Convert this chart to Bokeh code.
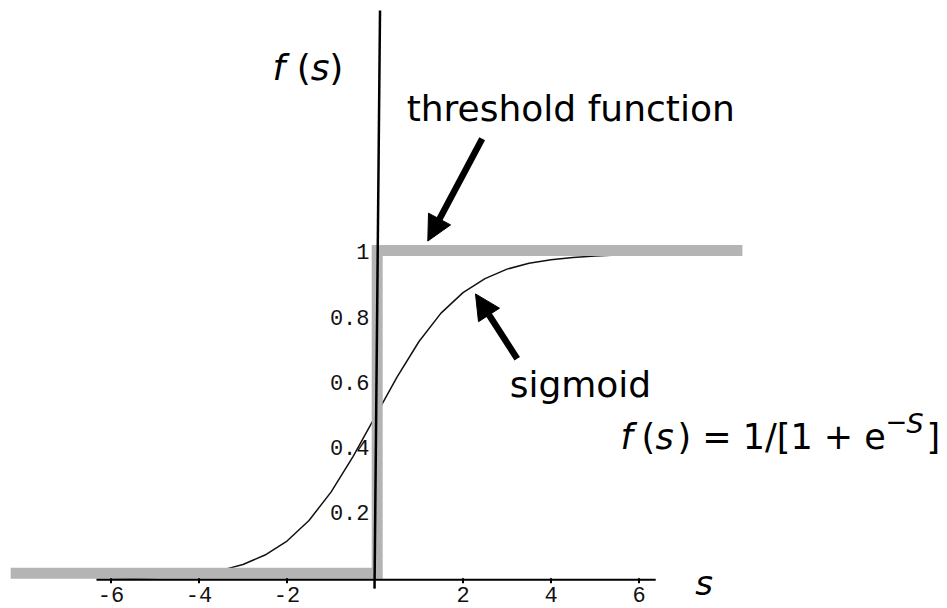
from bokeh.plotting import figure
from bokeh.models import Range1d, Arrow, NormalHead
from bokeh.embed import file_html
from bokeh.resources import INLINE
from bokeh.core.properties import value

# ---- data ----
sigmoid_s = [-6.0, -5.5, -5.0, -4.5, -4.0, -3.5, -3.0, -2.5, -2.0, -1.5, -1.0, -0.5,
             0.0, 0.5, 1.0, 1.5, 2.0, 2.5, 3.0, 3.5, 4.0, 4.5, 5.0, 5.5, 6.0]
sigmoid_f = [0.002, 0.004, 0.007, 0.011, 0.018, 0.029, 0.047, 0.076, 0.119, 0.182, 0.269, 0.378,
             0.5, 0.622, 0.731, 0.818, 0.881, 0.924, 0.953, 0.971, 0.982, 0.989, 0.993, 0.996, 0.998]

threshold_s = [-8.28, 0.05, 0.05, 8.35]
threshold_f = [0.02, 0.02, 1.01, 1.01]

x_ticks = [-6, -4, -2, 2, 4, 6]
x_tick_labels = ["-6", "-4", "-2", "2", "4", "6"]
y_ticks = [0.2, 0.4, 0.6, 0.8, 1.0]
y_tick_labels = ["0.2", "0.4", "0.6", "0.8", "1"]

# ---- layout constants ----
X_AXIS_START, X_AXIS_END = -6.33, 6.38
Y_AXIS_TOP = (0.114, 1.746)
Y_AXIS_BOTTOM = (-0.011, -0.027)
TICK_UP, TICK_DOWN = 0.005, -0.0104
XLAB_BASE = -0.045
YLAB_X = -0.125
YLAB_SHIFT = -0.006

SANS = value("DejaVu Sans")
MONO = value("Liberation Mono")

p = figure(width=947, height=608,
           x_range=Range1d(-8.5114, 13.0114), y_range=Range1d(-0.0880, 1.7770),
           x_axis_location=None, y_axis_location=None,
           toolbar_location=None, output_backend="svg", min_border=0)
p.outline_line_color = None
p.background_fill_color = "white"
p.border_fill_color = "white"
p.grid.grid_line_color = None

# y tick labels
p.text(x=[YLAB_X] * len(y_ticks), y=[v - YLAB_SHIFT for v in y_ticks], text=y_tick_labels,
       text_font=MONO, text_font_size="22px", text_align="right",
       text_baseline="alphabetic", text_color="#111111")

# sigmoid
p.line(sigmoid_s, sigmoid_f, line_color="#111111", line_width=1.5)

# threshold
p.line(threshold_s, threshold_f, line_color="#b4b4b4", line_width=11,
       line_join="miter", line_cap="butt")

# x axis line and ticks
p.line([X_AXIS_START, X_AXIS_END], [0, 0], line_color="black", line_width=2)
p.segment(x0=x_ticks, y0=[TICK_UP] * len(x_ticks), x1=x_ticks, y1=[TICK_DOWN] * len(x_ticks),
          line_color="black", line_width=2)
p.text(x=x_ticks, y=[XLAB_BASE] * len(x_ticks), text=x_tick_labels,
       text_font=MONO, text_font_size="22px", text_align="center",
       text_baseline="alphabetic", text_color="#111111")

# y axis line
p.line([Y_AXIS_TOP[0], Y_AXIS_BOTTOM[0]], [Y_AXIS_TOP[1], Y_AXIS_BOTTOM[1]],
       line_color="black", line_width=2.5)

def txt(x, y, t, size, style="normal"):
    p.text(x=[x], y=[y], text=[t], text_font=SANS, text_font_size=size,
           text_font_style=style, text_align="left", text_baseline="alphabetic",
           text_color="black")

# axis titles
txt(-2.33, 1.573, "f", "36px", "italic")
txt(-1.78, 1.573, "(", "36px")
txt(-1.46, 1.573, "s", "36px", "italic")
txt(-1.04, 1.573, ")", "36px")
txt(7.28, -0.010, "s", "34px", "italic")

# annotations
txt(0.72, 1.447, "threshold function", "36px")
txt(3.06, 0.600, "sigmoid", "36px")

# formula
txt(5.580, 0.437, "f", "35px", "italic")
txt(6.057, 0.437, "(", "35px")
txt(6.375, 0.437, "s", "35px", "italic")
txt(6.875, 0.437, ") = 1/[1 + e", "35px")
txt(11.602, 0.486, "\u2212", "26px")
txt(12.08, 0.480, "S", "27px", "italic")
txt(12.534, 0.437, "]", "35px")

# arrows
for xs, ys, xe, ye in [(2.436, 1.353, 1.20, 1.039), (3.232, 0.678, 2.284, 0.877)]:
    p.add_layout(Arrow(end=NormalHead(size=25, fill_color="black", line_color="black", line_width=1),
                       x_start=xs, y_start=ys, x_end=xe, y_end=ye,
                       line_color="black", line_width=6.5))

open("out.html", "w").write(file_html(p, INLINE))
